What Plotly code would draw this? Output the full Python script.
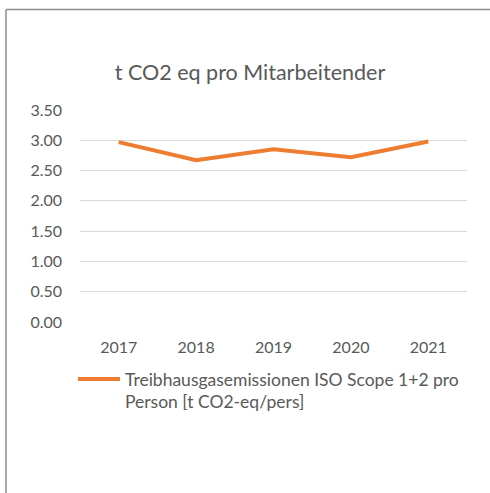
import plotly.graph_objects as go

years = ["2017", "2018", "2019", "2020", "2021"]
values = [2.97, 2.67, 2.85, 2.72, 2.98]
series_name = "Treibhausgasemissionen ISO Scope 1+2 pro<br>Person [t CO2-eq/pers]"
title_text = "t CO2 eq pro Mitarbeitender"
y_ticks = [0, 0.5, 1.0, 1.5, 2.0, 2.5, 3.0, 3.5]

FONT = "Lato"
GRAY = "#595959"

W, H = 490, 493
L, R, T, B = 80, 23, 110, 171
pw, ph = W - L - R, H - T - B

def px_x(p):
    return (p - L) / pw

def px_y(p):
    return (H - B - p) / ph

fig = go.Figure()
fig.add_trace(go.Scatter(
    x=years, y=values, mode="lines", name=series_name,
    line=dict(color="#ED7D31", width=4),
))

fig.update_layout(
    width=W, height=H,
    margin=dict(l=L, r=R, t=T, b=B),
    paper_bgcolor="white", plot_bgcolor="white",
    font=dict(family=FONT, color=GRAY, size=16),
    title=dict(text=title_text, x=px_x(250), xanchor="center", xref="paper",
               y=1 - 72 / H, yanchor="middle", font=dict(size=21.5, color=GRAY, family=FONT)),
    showlegend=True,
    legend=dict(x=px_x(73), xanchor="left", y=px_y(361), yanchor="top",
                orientation="h", font=dict(size=17.5, color=GRAY, family=FONT),
                itemwidth=42, valign="top", bgcolor="rgba(0,0,0,0)"),
    xaxis=dict(type="category", range=[-0.5, 4.5], showgrid=False, showline=False, ticks="",
               tickfont=dict(size=16, color=GRAY), ticklabelstandoff=14, zeroline=False),
    yaxis=dict(range=[0, 3.5], tickvals=y_ticks, tickformat=".2f", showgrid=True,
               gridcolor="#d9d9d9", gridwidth=1, zeroline=False, showline=False,
               ticks="", tickfont=dict(size=16, color=GRAY), ticklabelstandoff=17),
    shapes=[
        dict(type="line", xref="paper", yref="paper", x0=px_x(6), x1=px_x(492),
             y0=px_y(9.5), y1=px_y(9.5), line=dict(color="#8c8c8c", width=1.5)),
        dict(type="line", xref="paper", yref="paper", x0=px_x(6), x1=px_x(6),
             y0=px_y(9.5), y1=px_y(495), line=dict(color="#8c8c8c", width=1.5)),
    ],
)

fig.write_html("out.html", config={"displayModeBar": False},
               post_script="document.body.style.margin='0';document.body.style.overflow='hidden';")
